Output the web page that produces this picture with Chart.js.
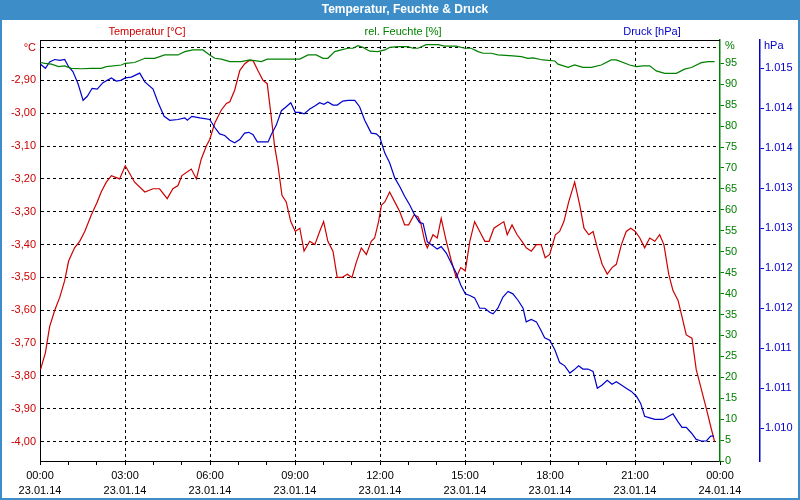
<!DOCTYPE html>
<html><head><meta charset="utf-8">
<script src="https://cdn.jsdelivr.net/npm/chart.js@4/dist/chart.umd.min.js"></script>
<style>html,body{margin:0;padding:0;background:#fff}canvas{display:block}</style>
</head><body>
<canvas id="c" width="800" height="500" style="width:800px;height:500px"></canvas>
<script>
// ---- data (hours since 23.01.14 00:00) ----
const tempHours = [0.02,0.19,0.34,0.52,0.70,0.87,1.01,1.22,1.40,1.58,1.81,2.02,2.16,2.34,2.52,2.81,3.01,3.34,3.70,3.99,4.22,4.49,4.69,4.87,5.01,5.34,5.52,5.69,5.87,5.99,6.17,6.40,6.58,6.70,6.87,7.05,7.22,7.37,7.52,7.69,7.87,8.02,8.16,8.28,8.40,8.54,8.69,8.85,9.01,9.17,9.32,9.52,9.70,9.87,10.01,10.16,10.34,10.49,10.66,10.85,11.01,11.16,11.34,11.52,11.69,11.81,11.95,12.05,12.17,12.34,12.52,12.70,12.87,13.01,13.20,13.34,13.44,13.58,13.67,13.87,14.02,14.16,14.34,14.52,14.69,14.85,15.01,15.17,15.34,15.52,15.70,15.85,16.02,16.19,16.37,16.49,16.66,16.84,17.01,17.16,17.34,17.52,17.69,17.83,17.99,18.19,18.34,18.49,18.66,18.87,19.05,19.20,19.37,19.52,19.67,19.84,20.02,20.19,20.34,20.52,20.69,20.85,21.01,21.17,21.34,21.52,21.70,21.87,22.02,22.19,22.34,22.52,22.66,22.81,23.01,23.16,23.34,23.52,23.69,23.81];
const tempValues = [-3.78,-3.73,-3.65,-3.60,-3.56,-3.51,-3.45,-3.41,-3.39,-3.36,-3.31,-3.27,-3.24,-3.21,-3.19,-3.20,-3.16,-3.21,-3.24,-3.23,-3.23,-3.26,-3.23,-3.22,-3.19,-3.17,-3.20,-3.14,-3.10,-3.08,-3.03,-2.99,-2.97,-2.965,-2.93,-2.87,-2.85,-2.84,-2.84,-2.87,-2.90,-2.91,-3.01,-3.10,-3.16,-3.25,-3.27,-3.33,-3.36,-3.35,-3.42,-3.39,-3.40,-3.36,-3.33,-3.39,-3.42,-3.50,-3.50,-3.49,-3.50,-3.455,-3.41,-3.43,-3.39,-3.38,-3.33,-3.28,-3.27,-3.24,-3.27,-3.30,-3.34,-3.34,-3.31,-3.315,-3.335,-3.39,-3.41,-3.37,-3.38,-3.32,-3.39,-3.45,-3.50,-3.47,-3.48,-3.39,-3.33,-3.36,-3.39,-3.39,-3.35,-3.34,-3.33,-3.37,-3.34,-3.37,-3.39,-3.41,-3.42,-3.40,-3.40,-3.44,-3.43,-3.37,-3.36,-3.33,-3.27,-3.21,-3.28,-3.35,-3.37,-3.36,-3.41,-3.46,-3.49,-3.47,-3.46,-3.40,-3.36,-3.35,-3.36,-3.38,-3.41,-3.38,-3.39,-3.37,-3.40,-3.49,-3.54,-3.57,-3.62,-3.675,-3.685,-3.78,-3.84,-3.90,-3.96,-4.00];

const humHours = [0.02,0.17,0.40,0.66,0.87,1.10,1.46,1.81,2.16,2.34,2.87,3.01,3.34,3.70,4.05,4.40,4.87,5.11,5.40,5.75,5.99,6.17,6.40,6.70,7.10,7.40,7.81,8.02,9.17,9.46,9.75,9.99,10.16,10.40,10.63,10.87,11.05,11.22,11.40,11.64,11.93,12.17,12.34,12.64,12.99,13.16,13.34,13.63,14.05,14.28,14.69,14.99,15.22,15.46,15.64,15.93,16.16,16.69,16.99,17.22,17.40,17.75,18.17,18.28,18.64,18.87,19.16,19.46,19.81,20.16,20.34,20.81,21.05,21.28,21.52,21.75,22.05,22.46,22.75,22.99,23.34,23.58,23.81];
const humValues = [95.2,95.0,94.8,94.2,94.4,93.8,93.7,93.8,93.8,94.2,94.6,95.0,95.2,96.2,96.2,97.0,97.0,97.8,98.2,98.2,97.0,96.2,96.0,95.4,95.4,95.8,95.4,96.0,96.0,97.0,97.0,96.2,96.2,97.8,98.2,98.6,98.6,99.2,98.8,97.9,97.8,98.2,98.8,99.0,99.0,98.6,98.6,99.45,99.45,99.1,99.1,98.6,98.6,97.8,97.4,97.4,97.0,96.8,96.6,96.2,96.3,95.8,95.55,94.8,94.05,94.6,94.05,94.05,94.6,95.8,95.8,94.6,94.2,94.4,94.4,93.2,92.6,92.6,93.6,94.0,95.15,95.4,95.4];

const pressHours = [0.02,0.19,0.34,0.52,0.70,0.87,1.01,1.16,1.34,1.52,1.67,1.84,2.02,2.22,2.52,2.69,2.85,3.01,3.22,3.52,3.70,3.99,4.16,4.38,4.58,4.87,5.11,5.20,5.36,5.64,5.99,6.17,6.34,6.52,6.70,6.87,7.05,7.22,7.37,7.52,7.67,7.87,8.05,8.16,8.34,8.52,8.69,8.85,9.01,9.17,9.32,9.52,9.70,9.87,10.02,10.16,10.34,10.49,10.69,10.87,11.11,11.28,11.46,11.69,11.87,11.99,12.17,12.34,12.52,12.70,12.87,13.05,13.22,13.40,13.52,13.67,13.87,14.02,14.16,14.34,14.52,14.69,14.85,15.01,15.17,15.34,15.52,15.70,15.87,15.99,16.16,16.34,16.52,16.69,16.87,17.05,17.16,17.34,17.52,17.67,17.81,17.99,18.17,18.34,18.52,18.70,18.85,19.01,19.16,19.34,19.52,19.67,19.84,20.02,20.19,20.34,20.52,20.69,20.87,21.05,21.20,21.34,21.52,21.70,21.99,22.19,22.34,22.52,22.66,22.81,22.99,23.16,23.34,23.52,23.67,23.79];
const pressValues = [1014.95,1014.90,1014.98,1015.01,1015.00,1015.01,1014.92,1014.86,1014.71,1014.50,1014.55,1014.65,1014.64,1014.72,1014.78,1014.74,1014.75,1014.78,1014.79,1014.84,1014.73,1014.64,1014.48,1014.30,1014.25,1014.26,1014.28,1014.25,1014.30,1014.28,1014.26,1014.16,1014.08,1014.06,1014.00,1013.97,1014.01,1014.09,1014.10,1014.07,1013.98,1013.98,1013.98,1014.07,1014.19,1014.37,1014.42,1014.47,1014.35,1014.35,1014.33,1014.39,1014.43,1014.47,1014.45,1014.48,1014.44,1014.44,1014.49,1014.50,1014.50,1014.42,1014.25,1014.09,1014.08,1014.04,1013.84,1013.72,1013.53,1013.42,1013.30,1013.19,1013.07,1012.97,1012.96,1012.73,1012.68,1012.64,1012.67,1012.59,1012.46,1012.34,1012.19,1012.08,1012.06,1012.03,1011.90,1011.90,1011.85,1011.83,1011.90,1012.04,1012.11,1012.08,1012.00,1011.90,1011.73,1011.76,1011.73,1011.63,1011.53,1011.50,1011.38,1011.22,1011.18,1011.09,1011.13,1011.18,1011.14,1011.14,1011.11,1010.90,1010.94,1011.00,1010.95,1010.98,1010.94,1010.90,1010.86,1010.80,1010.71,1010.55,1010.53,1010.51,1010.51,1010.55,1010.58,1010.48,1010.41,1010.41,1010.34,1010.26,1010.24,1010.24,1010.30,1010.30];

// ---- tick labels ----
const tempTicks = [-4.0,-3.9,-3.8,-3.7,-3.6,-3.5,-3.4,-3.3,-3.2,-3.1,-3.0,-2.9,-2.8];
const humTicks = [0,5,10,15,20,25,30,35,40,45,50,55,60,65,70,75,80,85,90,95];
const pressTicks = [1010.4,1010.9,1011.4,1011.9,1012.4,1012.9,1013.4,1013.9,1014.4,1014.9];
const timeTickLabels = ['00:00','03:00','06:00','09:00','12:00','15:00','18:00','21:00','00:00'];
const dateTickLabels = ['23.01.14','23.01.14','23.01.14','23.01.14','23.01.14','23.01.14','23.01.14','23.01.14','24.01.14'];

const RED = '#cc0000', GREEN = '#008000', BLUE = '#0000cc', FRAME = '#3d8ec8';
const FONT = {family: "'Liberation Sans', Arial, sans-serif", size: 11};
const zip = (xs, ys) => xs.map((x, i) => ({x: x, y: ys[i]}));

const decor = {
  id: 'decor',
  beforeDraw(chart) {
    const ctx = chart.ctx;
    ctx.save();
    ctx.fillStyle = '#fff';
    ctx.fillRect(0, 0, 800, 500);
    ctx.fillStyle = FRAME;
    ctx.fillRect(0, 0, 800, 20);
    ctx.fillRect(0, 0, 2, 500);
    ctx.fillRect(798, 0, 2, 500);
    ctx.fillRect(0, 498, 800, 2);
    ctx.fillStyle = '#fff';
    ctx.font = "bold 12px 'Liberation Sans', Arial, sans-serif";
    ctx.textAlign = 'center';
    ctx.textBaseline = 'middle';
    ctx.fillText('Temperatur, Feuchte & Druck', 405, 10);
    ctx.font = "11px 'Liberation Sans', Arial, sans-serif";
    ctx.fillStyle = RED; ctx.fillText('Temperatur [°C]', 147, 32);
    ctx.fillStyle = GREEN; ctx.fillText('rel. Feuchte [%]', 403, 32);
    ctx.fillStyle = BLUE; ctx.fillText('Druck [hPa]', 652, 32);
    ctx.textAlign = 'left';
    ctx.fillStyle = GREEN; ctx.fillText('%', 725, 46);
    ctx.fillStyle = BLUE; ctx.fillText('hPa', 764, 46);
    ctx.restore();
  },
  beforeDatasetsDraw(chart) {
    const ctx = chart.ctx, a = chart.chartArea;
    ctx.save();
    ctx.strokeStyle = '#000';
    ctx.lineWidth = 1;
    ctx.beginPath();
    ctx.moveTo(a.left, Math.round(a.top) + 0.5);
    ctx.lineTo(a.right, Math.round(a.top) + 0.5);
    ctx.stroke();
    ctx.restore();
  }
};

new Chart(document.getElementById('c'), {
  type: 'line',
  data: {
    datasets: [
      {label: 'rel. Feuchte [%]', data: zip(humHours, humValues), yAxisID: 'yH', borderColor: GREEN},
      {label: 'Druck [hPa]', data: zip(pressHours, pressValues), yAxisID: 'yP', borderColor: BLUE},
      {label: 'Temperatur [°C]', data: zip(tempHours, tempValues), yAxisID: 'yT', borderColor: RED}
    ]
  },
  options: {
    responsive: false,
    animation: false,
    parsing: true,
    layout: {padding: {top: 40, left: 0, right: 0, bottom: 0}},
    elements: {line: {borderWidth: 1.2, tension: 0, fill: false}, point: {radius: 0}},
    plugins: {legend: {display: false}, title: {display: false}, tooltip: {enabled: false}},
    scales: {
      x: {
        type: 'linear', min: 0, max: 24,
        afterFit: s => { s.height = 39; },
        ticks: {
          stepSize: 1, autoSkip: false, maxRotation: 0, color: '#000', padding: 4,
          font: {family: FONT.family, size: 11, lineHeight: 1.35},
          callback: v => (v % 3 === 0) ? [timeTickLabels[v / 3], dateTickLabels[v / 3]] : ''
        },
        grid: {
          color: c => (c.tick && c.tick.value % 3 === 0 && c.tick.value > 0 && c.tick.value < 24) ? '#000' : 'rgba(0,0,0,0)',
          tickColor: '#000', tickLength: 4, lineWidth: 1
        },
        border: {display: true, color: '#000', width: 1, dash: [3, 3]}
      },
      yT: {
        type: 'linear', position: 'left', min: -4.059, max: -2.777,
        afterBuildTicks: s => { s.ticks = tempTicks.map(v => ({value: v})); },
        afterFit: s => { s.width = 40; },
        ticks: {
          color: RED, padding: 4, font: FONT,
          callback: v => Math.abs(v + 2.8) < 1e-6 ? '°C' : v.toFixed(2).replace('.', ',')
        },
        grid: {color: '#000', lineWidth: 1, drawTicks: false},
        border: {display: true, color: '#000', width: 1, dash: [3, 3]}
      },
      yH: {
        type: 'linear', position: 'right', min: 0, max: 100.57,
        afterBuildTicks: s => { s.ticks = humTicks.map(v => ({value: v})); },
        afterFit: s => { s.width = 40; },
        ticks: {color: GREEN, padding: 1, font: FONT, callback: v => String(v)},
        grid: {drawOnChartArea: false, drawTicks: true, tickLength: 4, color: GREEN, tickColor: GREEN},
        border: {display: true, color: GREEN, width: 1.5}
      },
      yP: {
        type: 'linear', position: 'right', min: 1009.99, max: 1015.254,
        afterBuildTicks: s => { s.ticks = pressTicks.map(v => ({value: v})); },
        afterFit: s => { s.width = 40; },
        ticks: {color: BLUE, padding: 1, font: FONT, callback: v => (Math.round(v) / 1000).toFixed(3)},
        grid: {drawOnChartArea: false, drawTicks: true, tickLength: 4, color: BLUE, tickColor: BLUE},
        border: {display: true, color: BLUE, width: 1.5}
      }
    }
  },
  plugins: [decor]
});
</script>
</body></html>
